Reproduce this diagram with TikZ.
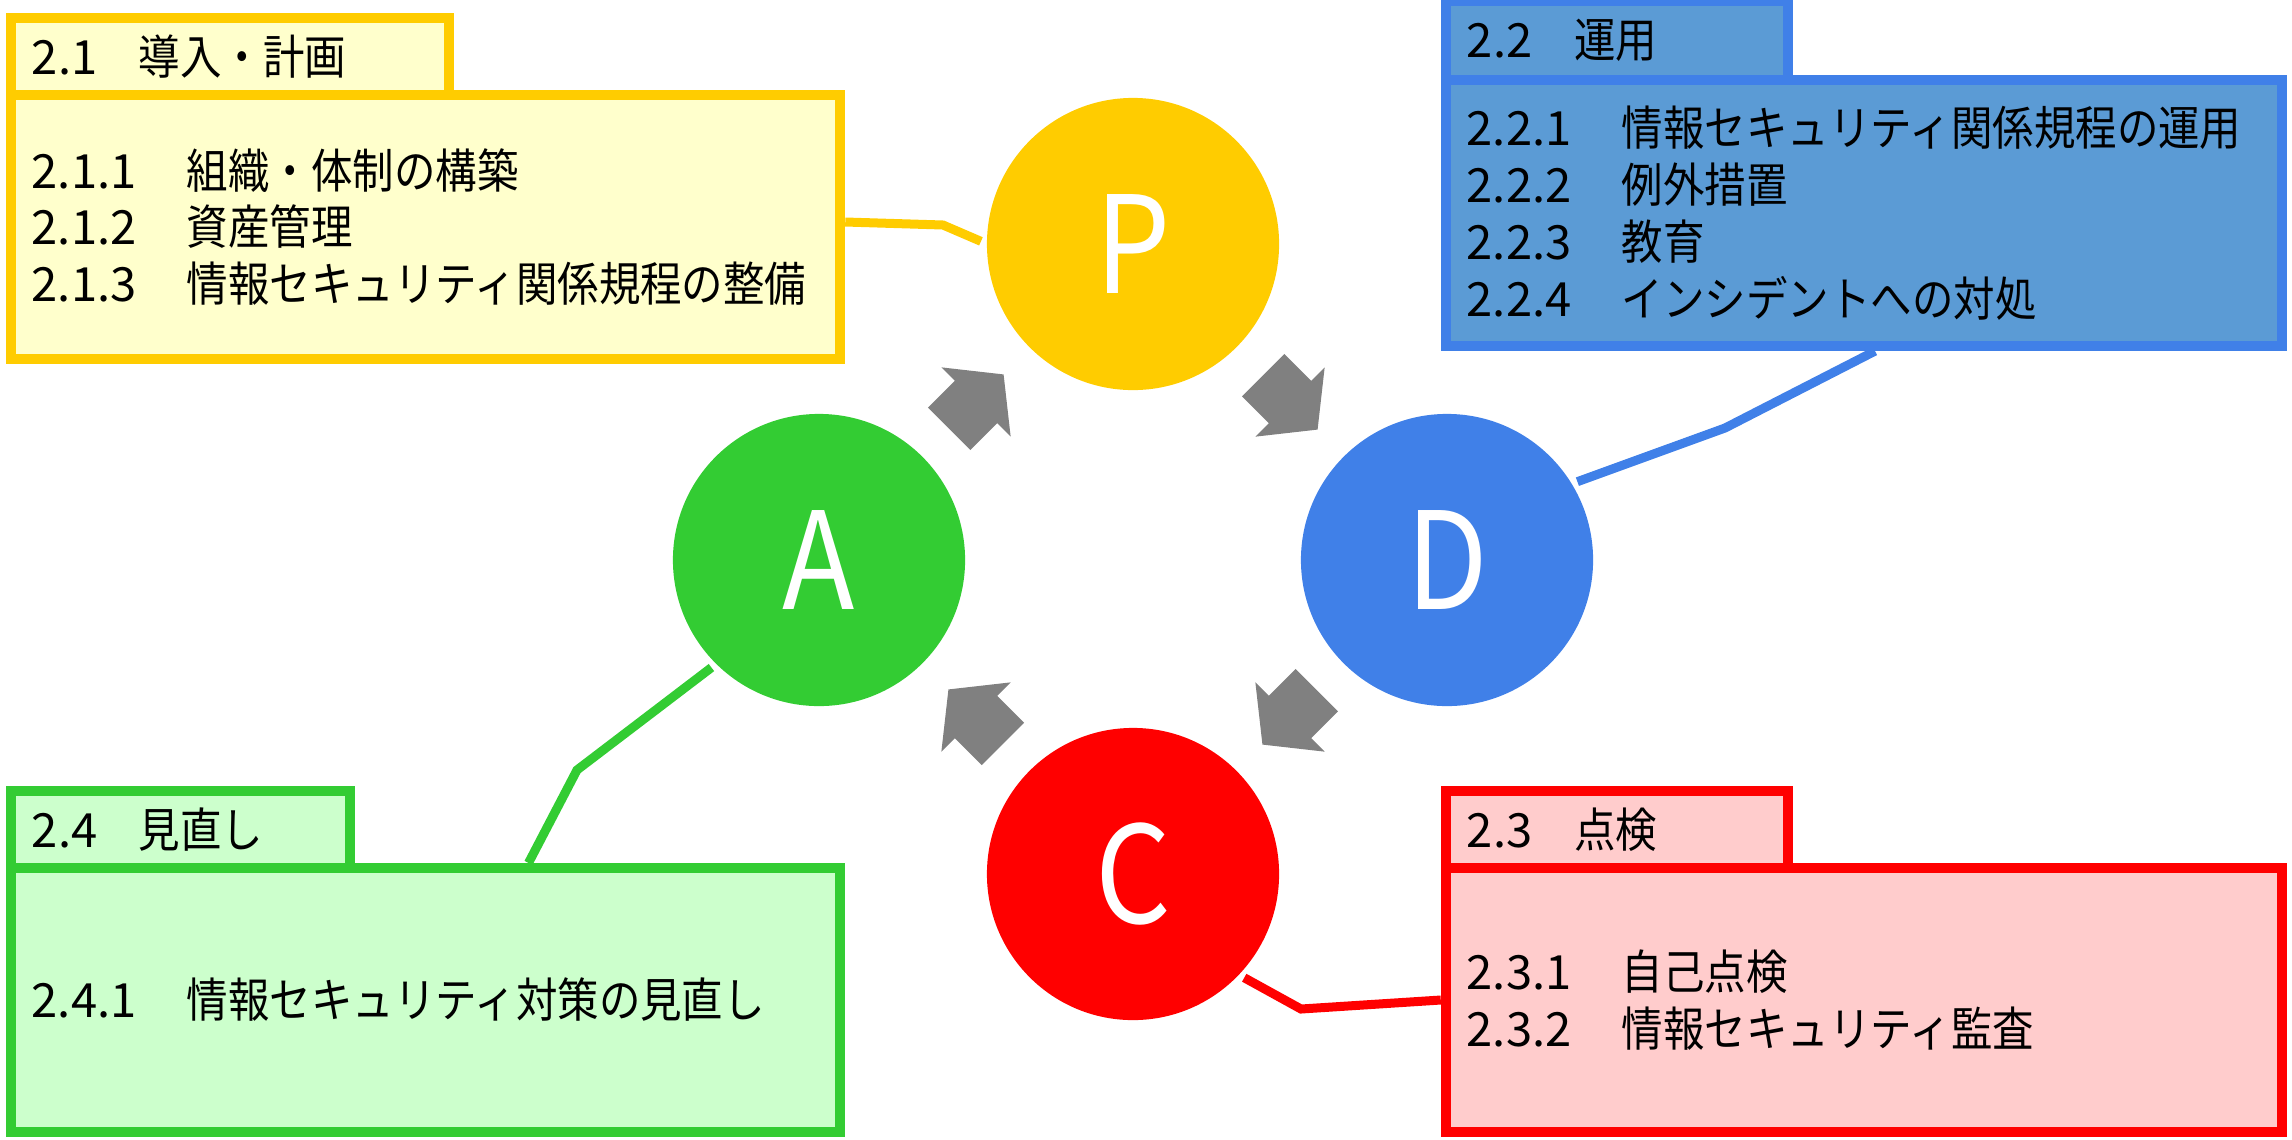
\documentclass[tikz,border=0pt]{standalone}
\usepackage{fontspec}
\setmainfont{Noto Sans CJK JP}[FakeStretch=0.88]
\newfontfamily\numfont{Noto Sans CJK JP}
\usepackage{xcolor}
\usetikzlibrary{calc}
\definecolor{cyel}{HTML}{FFCC00}
\definecolor{cyelbg}{HTML}{FFFFCC}
\definecolor{cblu}{HTML}{4080E8}
\definecolor{cblubg}{HTML}{5B9BD5}
\definecolor{cred}{HTML}{FF0000}
\definecolor{credbg}{HTML}{FFCCCC}
\definecolor{cgrn}{HTML}{33CC33}
\definecolor{cgrnbg}{HTML}{CCFFCC}
\definecolor{arrowgray}{HTML}{808080}
\newcommand{\itemfont}{\fontsize{13.4pt}{16.2pt}\selectfont}
\newcommand{\phasefont}{\fontsize{38.4pt}{40pt}\selectfont}
\newcommand{\secno}[1]{\makebox[1.07cm][l]{\numfont #1}}
\newcommand{\subno}[1]{\makebox[1.55cm][l]{\numfont #1}}
\tikzset{
  headbox/.style={draw, line width=0.1cm, align=left, inner xsep=0.21cm, inner ysep=0pt,
    minimum height=0.77cm, font=\itemfont},
  bodybox/.style={draw, line width=0.1cm, align=left, inner xsep=0.21cm,
    minimum height=2.64cm, font=\itemfont},
  phase/.style={circle, minimum size=2.92cm, inner sep=0pt, outer sep=0.06cm,
    text=white, font=\phasefont},
  link/.style={line width=0.09cm},
  cyclearrow/.pic={
    \fill[arrowgray] (-38,-30) -- (0,-30) -- (0,-49) -- (39,0) -- (0,49) -- (0,30) -- (-38,30) -- cycle;
  }
}

\begin{document}
\begin{tikzpicture}[x=0.01cm, y=-0.01cm]
  \useasboundingbox (0,0) rectangle (2292,1139);

  % PDCA circles
  \node[phase, fill=cyel] (P) at (1133,244) {P};
  \node[phase, fill=cblu] (D) at (1447,560) {D};
  \node[phase, fill=cred] (C) at (1133,874) {C};
  \node[phase, fill=cgrn] (A) at (819,560) {A};

  \pic[rotate=45]   at ($(A)!.5!(P)$) {cyclearrow};
  \pic[rotate=-45]  at ($(P)!.5!(D)$) {cyclearrow};
  \pic[rotate=-135] at ($(D)!.5!(C)$) {cyclearrow};
  \pic[rotate=135]  at ($(C)!.5!(A)$) {cyclearrow};

  % 2.1
  \node[bodybox, draw=cyel, fill=cyelbg, minimum width=8.29cm, text width=7.87cm] (ybody) at (425.5,227)
    {\subno{2.1.1}組織・体制の構築\\\subno{2.1.2}資産管理\\\subno{2.1.3}情報セキュリティ関係規程の整備};
  \node[headbox, draw=cyel, fill=cyelbg, minimum width=4.38cm, text width=3.96cm] (ytitle) at (230,56.5)
    {\secno{2.1}導入・計画};

  % 2.2
  \node[bodybox, draw=cblu, fill=cblubg, minimum width=8.36cm, minimum height=2.66cm, text width=7.94cm] (bbody) at (1864,213)
    {\subno{2.2.1}情報セキュリティ関係規程の運用\\\subno{2.2.2}例外措置\\\subno{2.2.3}教育\\\subno{2.2.4}インシデントへの対処};
  \node[headbox, draw=cblu, fill=cblubg, minimum width=3.42cm, minimum height=0.79cm, text width=3cm] (btitle) at (1617,40.5)
    {\secno{2.2}運用};

  % 2.3
  \node[bodybox, draw=cred, fill=credbg, minimum width=8.36cm, text width=7.94cm] (rbody) at (1864,1000)
    {\subno{2.3.1}自己点検\\\subno{2.3.2}情報セキュリティ監査};
  \node[headbox, draw=cred, fill=credbg, minimum width=3.42cm, text width=3cm] (rtitle) at (1617,829.5)
    {\secno{2.3}点検};

  % 2.4
  \node[bodybox, draw=cgrn, fill=cgrnbg, minimum width=8.29cm, text width=7.87cm] (gbody) at (425.5,1000)
    {\subno{2.4.1}情報セキュリティ対策の見直し};
  \node[headbox, draw=cgrn, fill=cgrnbg, minimum width=3.39cm, text width=2.97cm] (gtitle) at (180.5,829.5)
    {\secno{2.4}見直し};

  % leader lines
  \draw[link, cyel] ($(ybody.east)+(0,-5)$) -- (943,225) -- (P.179);
  \draw[link, cblu] ($(bbody.south)+(11,0)$) -- (1725,428) -- (D.31);
  \draw[link, cred] (rbody.west) -- (1301,1009) -- (C.317);
  \draw[link, cgrn] ($(gbody.north)+(103,0)$) -- (577,770) -- (A.225);
\end{tikzpicture}
\end{document}
